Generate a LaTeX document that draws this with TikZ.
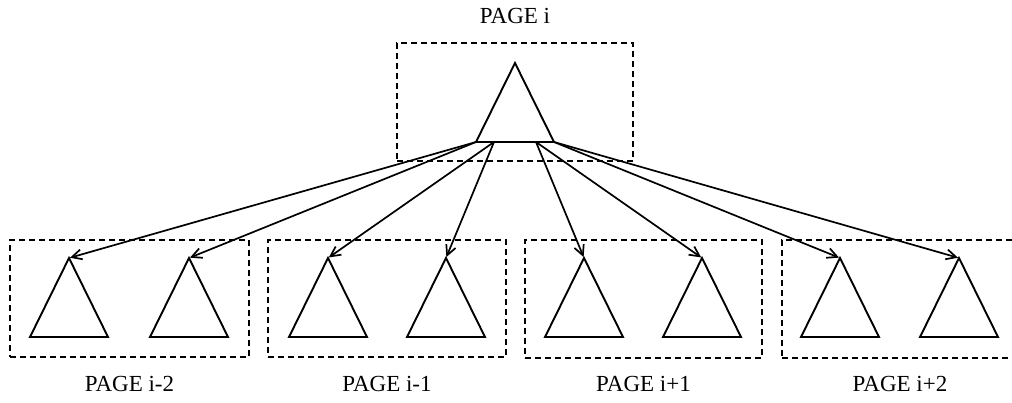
\documentclass[tikz,border=0pt]{standalone}
\usepackage{fontspec}
\setmainfont{Liberation Serif}
\usetikzlibrary{arrows.meta,positioning}

\tikzset{
  pagebox/.style={draw, dashed, dash pattern=on 6pt off 4pt, line width=1.4pt, inner sep=0pt},
  pagelabel/.style={font=\fontsize{23}{26}\selectfont},
  tree/.style={line width=1.9pt, line join=miter},
  link/.style={line width=1.7pt, -{Straight Barb[length=10pt,width=10pt,line width=1.7pt]}, shorten >=1pt}
}

\begin{document}
\begin{tikzpicture}[x=1pt, y=-1pt]

\useasboundingbox (0,0) rectangle (1012,402);
\clip (0,0) rectangle (1012,402);

% Upper page
\node[pagebox, minimum width=236pt, minimum height=118pt] (pi) at (515,102) {};
\node[pagelabel] (lpi) at (515,16) {PAGE i};

\coordinate (top) at (515,63);
\coordinate (L) at (476,142);
\coordinate (l) at (494,142);
\coordinate (r) at (536,142);
\coordinate (R) at (554,142);
\draw[tree] (top) -- (R) -- (L) -- cycle;

% Lower pages
\node[pagebox, minimum width=239pt, minimum height=117pt] (pa) at (129.5,298.5) {};
\node[pagebox, minimum width=238pt, minimum height=117pt] (pb) at (387,298.5) {};
\node[pagebox, minimum width=237pt, minimum height=118pt] (pc) at (643.5,299) {};
\node[pagebox, minimum width=236pt, minimum height=118pt] (pd) at (900,299) {};

\node[pagelabel, below=15pt of pa] (la) {PAGE i-2};
\node[pagelabel, below=15pt of pb] (lb) {PAGE i-1};
\node[pagelabel, below=14pt of pc] (lc) {PAGE i+1};
\node[pagelabel, below=14pt of pd] (ld) {PAGE i+2};

% Subtrees
\foreach \n/\x in {t1/69, t2/189, t3/328, t4/446, t5/584, t6/702, t7/840, t8/959} {
  \coordinate (\n) at (\x,258);
  \draw[tree] (\n) -- ++(39,79) -- ++(-78,0) -- cycle;
}

% Pointers
\draw[link] (L) -- (t1);
\draw[link] (L) -- (t2);
\draw[link] (l) -- (t3);
\draw[link] (l) -- (t4);
\draw[link] (r) -- (t5);
\draw[link] (r) -- (t6);
\draw[link] (R) -- (t7);
\draw[link] (R) -- (t8);

\end{tikzpicture}
\end{document}
